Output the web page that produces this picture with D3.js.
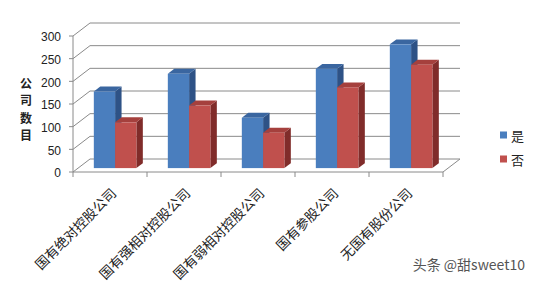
<!DOCTYPE html>
<html>
<head>
<meta charset="utf-8">
<script src="https://cdn.jsdelivr.net/npm/d3@7"></script>
<style>
  body{margin:0;background:#fff;}
  svg text{font-family:"Noto Sans CJK SC","Liberation Sans",sans-serif;}
</style>
</head>
<body>
<div class="chart"></div>
<script>
// data
const categories = ["国有绝对控股公司","国有强相对控股公司","国有弱相对控股公司","国有参股公司","无国有股份公司"];
const seriesNames = ["是","否"];
const yesValues = [169,208,111,219,273];
const noValues = [101,138,78,178,228];
const yTicks = [0,50,100,150,200,250,300];

const width = 538, height = 284;
const svg = d3.select(".chart").append("svg").attr("width",width).attr("height",height);

// oblique 3d: depth vector
const depthX = 17, depthY = -13;
const x0 = 73, x1 = 443;
const y = d3.scaleLinear().domain([0,300]).range([172,36]);
const xBand = d3.scaleBand().domain(categories).range([x0,x1]).paddingInner(0.425).paddingOuter(0.2125);
const xSub = d3.scaleBand().domain(seriesNames).range([0,xBand.bandwidth()]);
const colors = {
  "是":{front:"#4a7ebe",top:"#3a66a0",side:"#2e5286"},
  "否":{front:"#c0504d",top:"#a5403d",side:"#802c2a"}
};
const gridColor = "#8a8a8a";

function proj(px,v,d){ return [px + depthX*d, y(v) + depthY*d]; }

// walls / gridlines
const grid = svg.append("g").attr("class","grid");
grid.selectAll(".back")
  .data(yTicks)
  .join("line")
  .attr("x1",x0+depthX).attr("x2",x1+depthX)
  .attr("y1",d=>y(d)+depthY).attr("y2",d=>y(d)+depthY)
  .attr("stroke",gridColor).attr("stroke-width",1);
grid.selectAll(".side")
  .data(yTicks)
  .join("line")
  .attr("x1",x0).attr("x2",x0+depthX)
  .attr("y1",d=>y(d)).attr("y2",d=>y(d)+depthY)
  .attr("stroke",gridColor).attr("stroke-width",1);
// floor right edge
grid.append("line")
  .attr("x1",x1).attr("y1",y(0)).attr("x2",x1+depthX).attr("y2",y(0)+depthY)
  .attr("stroke",gridColor);

// bars
const bars = [];
categories.forEach((c,i)=>{
  bars.push({cat:c,s:"是",v:yesValues[i]});
  bars.push({cat:c,s:"否",v:noValues[i]});
});
const d0 = 0.3, d1 = 0.68;
const barG = svg.append("g").attr("class","bars")
  .selectAll("g")
  .data(bars)
  .join("g");
barG.each(function(b){
  const g = d3.select(this);
  const left = xBand(b.cat) + xSub(b.s), right = left + xSub.bandwidth();
  const pts = a=>a.map(p=>p.join(",")).join(" ");
  const fl = proj(left,b.v,d0), fr = proj(right,b.v,d0);
  const br = proj(right,b.v,d1), bl = proj(left,b.v,d1);
  const frb = proj(right,0,d0), brb = proj(right,0,d1);
  g.append("polygon").attr("points",pts([fr,br,brb,frb])).attr("fill",colors[b.s].side);
  g.append("polygon").attr("points",pts([fl,bl,br,fr])).attr("fill",colors[b.s].top);
  g.append("rect")
    .attr("x",fl[0]).attr("y",fl[1])
    .attr("width",right-left).attr("height",y(0)-y(b.v))
    .attr("fill",colors[b.s].front);
});

// front axis lines
const axis = svg.append("g").attr("class","axis");
axis.append("line").attr("x1",x0).attr("x2",x0).attr("y1",y(300)).attr("y2",y(0)).attr("stroke",gridColor);
axis.append("line").attr("x1",x0).attr("x2",x1).attr("y1",y(0)).attr("y2",y(0)).attr("stroke",gridColor);
axis.selectAll(".ytick")
  .data(yTicks)
  .join("line")
  .attr("x1",x0-4).attr("x2",x0)
  .attr("y1",d=>y(d)).attr("y2",d=>y(d))
  .attr("stroke",gridColor);
axis.selectAll(".ylabel")
  .data(yTicks)
  .join("text")
  .attr("x",61).attr("y",d=>y(d)+1)
  .attr("dy","0.35em")
  .attr("text-anchor","end")
  .style("font-family","'Liberation Sans',Arial,sans-serif")
  .style("font-size","12px")
  .attr("fill","#222")
  .text(d=>d);
const boundaries = categories.map(c=>xBand(c)-xBand.step()*xBand.paddingInner()/2).concat([x1]);
axis.selectAll(".xtick")
  .data(boundaries)
  .join("line")
  .attr("x1",d=>d).attr("x2",d=>d)
  .attr("y1",y(0)).attr("y2",y(0)+5)
  .attr("stroke",gridColor);
axis.selectAll(".xlabel")
  .data(categories)
  .join("text")
  .attr("transform",d=>`translate(${xBand(d)+xBand.bandwidth()/2+3},${y(0)+18}) rotate(-45)`)
  .attr("text-anchor","end")
  .attr("dominant-baseline","central")
  .style("font-size","13.5px")
  .attr("fill","#222")
  .text(d=>d);

// y title, stacked characters
svg.append("g").selectAll("text")
  .data("公司数目".split(""))
  .join("text")
  .attr("x",26).attr("y",(d,i)=>82+i*17.5)
  .attr("text-anchor","middle")
  .attr("dominant-baseline","central")
  .style("font-size","12px")
  .style("font-weight","bold")
  .attr("fill","#222")
  .text(d=>d);

// legend
const legend = svg.append("g").selectAll("g")
  .data(seriesNames)
  .join("g")
  .attr("transform",(d,i)=>`translate(500,${135+i*24})`);
legend.append("rect").attr("x",0).attr("y",-3.5).attr("width",7).attr("height",7).attr("fill",d=>colors[d].front);
legend.append("text").attr("x",11).attr("y",0).attr("dominant-baseline","central")
  .style("font-size","13px").attr("fill","#222").text(d=>d);

// watermark
svg.append("text")
  .attr("x",525).attr("y",270)
  .attr("text-anchor","end")
  .style("font-size","14px")
  .attr("fill","#555")
  .text("头条 @甜sweet10");
</script>
</body>
</html>
